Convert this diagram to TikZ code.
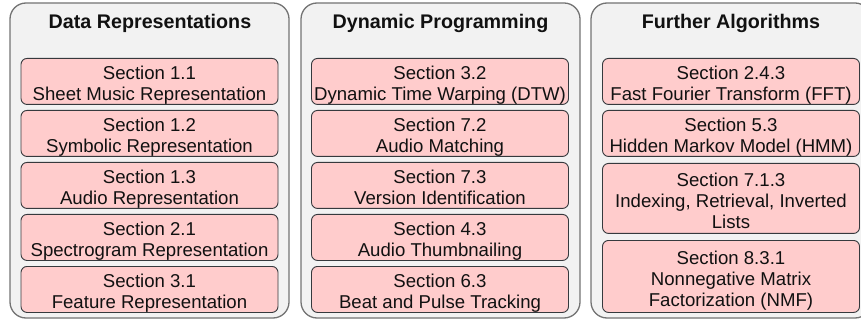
\documentclass[tikz,border=0pt]{standalone}
\usepackage{fontspec}
\setmainfont{Liberation Sans}
\definecolor{panelfill}{HTML}{F2F2F2}
\definecolor{panelstroke}{HTML}{737373}
\definecolor{boxfill}{HTML}{FFCCCC}
\definecolor{boxstroke}{HTML}{36393D}
\definecolor{txt}{HTML}{111111}
\newcommand{\twosec}[5]{%
  \node[sbox, minimum height=46pt, anchor=north] (#1) at (#2,#3) {};
  \node[lbl] (#1a) at ([yshift=2pt]#1.center) {#4};
  \node[lbl] (#1b) at ([yshift=-19pt]#1.center) {#5};
}
\newcommand{\threesec}[7]{%
  \node[sbox, minimum height=#4, anchor=north] (#1) at (#2,#3) {};
  \node[lbl] (#1a) at ([yshift=12pt]#1.center) {#5};
  \node[lbl] (#1b) at ([yshift=-9pt]#1.center) {#6};
  \node[lbl] (#1c) at ([yshift=-30pt]#1.center) {#7};
}
\begin{document}
\begin{tikzpicture}[x=1pt,y=-1pt,
  panel/.style={draw=panelstroke, fill=panelfill, line width=1.3pt, rounded corners=16pt,
    minimum width=279pt, minimum height=315pt, inner sep=0pt},
  sbox/.style={draw=boxstroke, fill=boxfill, line width=0.9pt, rounded corners=6pt,
    minimum width=257pt, inner sep=0pt},
  ttl/.style={font=\fontsize{19.7}{22}\selectfont\bfseries, anchor=base, inner sep=0pt, text=txt},
  lbl/.style={font=\fontsize{18.6}{21}\selectfont, anchor=base, inner sep=0pt, text=txt}]
\useasboundingbox (0,0) rectangle (861,320);
\clip (0,0) rectangle (861,320);
% panels
\node[panel] (p1) at (149.5,160.5) {};
\node[panel] (p2) at (440.5,160.5) {};
\node[panel, minimum width=280pt] (p3) at (731,160.5) {};
\node[ttl] (t1) at (150,29) {Data Representations};
\node[ttl] (t2) at (440.5,29) {Dynamic Programming};
\node[ttl] (t3) at (731,29) {Further Algorithms};
% panel 1
\twosec{a1}{149.5}{58}{Section 1.1}{Sheet Music Representation}
\twosec{a2}{149.5}{110}{Section 1.2}{Symbolic Representation}
\twosec{a3}{149.5}{162}{Section 1.3}{Audio Representation}
\twosec{a4}{149.5}{214}{Section 2.1}{Spectrogram Representation}
\twosec{a5}{149.5}{266}{Section 3.1}{Feature Representation}
% panel 2
\twosec{b1}{440}{58}{Section 3.2}{Dynamic Time Warping (DTW)}
\twosec{b2}{440}{110}{Section 7.2}{Audio Matching}
\twosec{b3}{440}{162}{Section 7.3}{Version Identification}
\twosec{b4}{440}{214}{Section 4.3}{Audio Thumbnailing}
\twosec{b5}{440}{266}{Section 6.3}{Beat and Pulse Tracking}
% panel 3
\twosec{c1}{731}{58}{Section 2.4.3}{Fast Fourier Transform (FFT)}
\twosec{c2}{731}{110}{Section 5.3}{Hidden Markov Model (HMM)}
\threesec{c3}{731}{163}{70pt}{Section 7.1.3}{Indexing, Retrieval, Inverted}{Lists}
\threesec{c4}{731}{240}{72pt}{Section 8.3.1}{Nonnegative Matrix}{Factorization (NMF)}
\end{tikzpicture}
\end{document}
